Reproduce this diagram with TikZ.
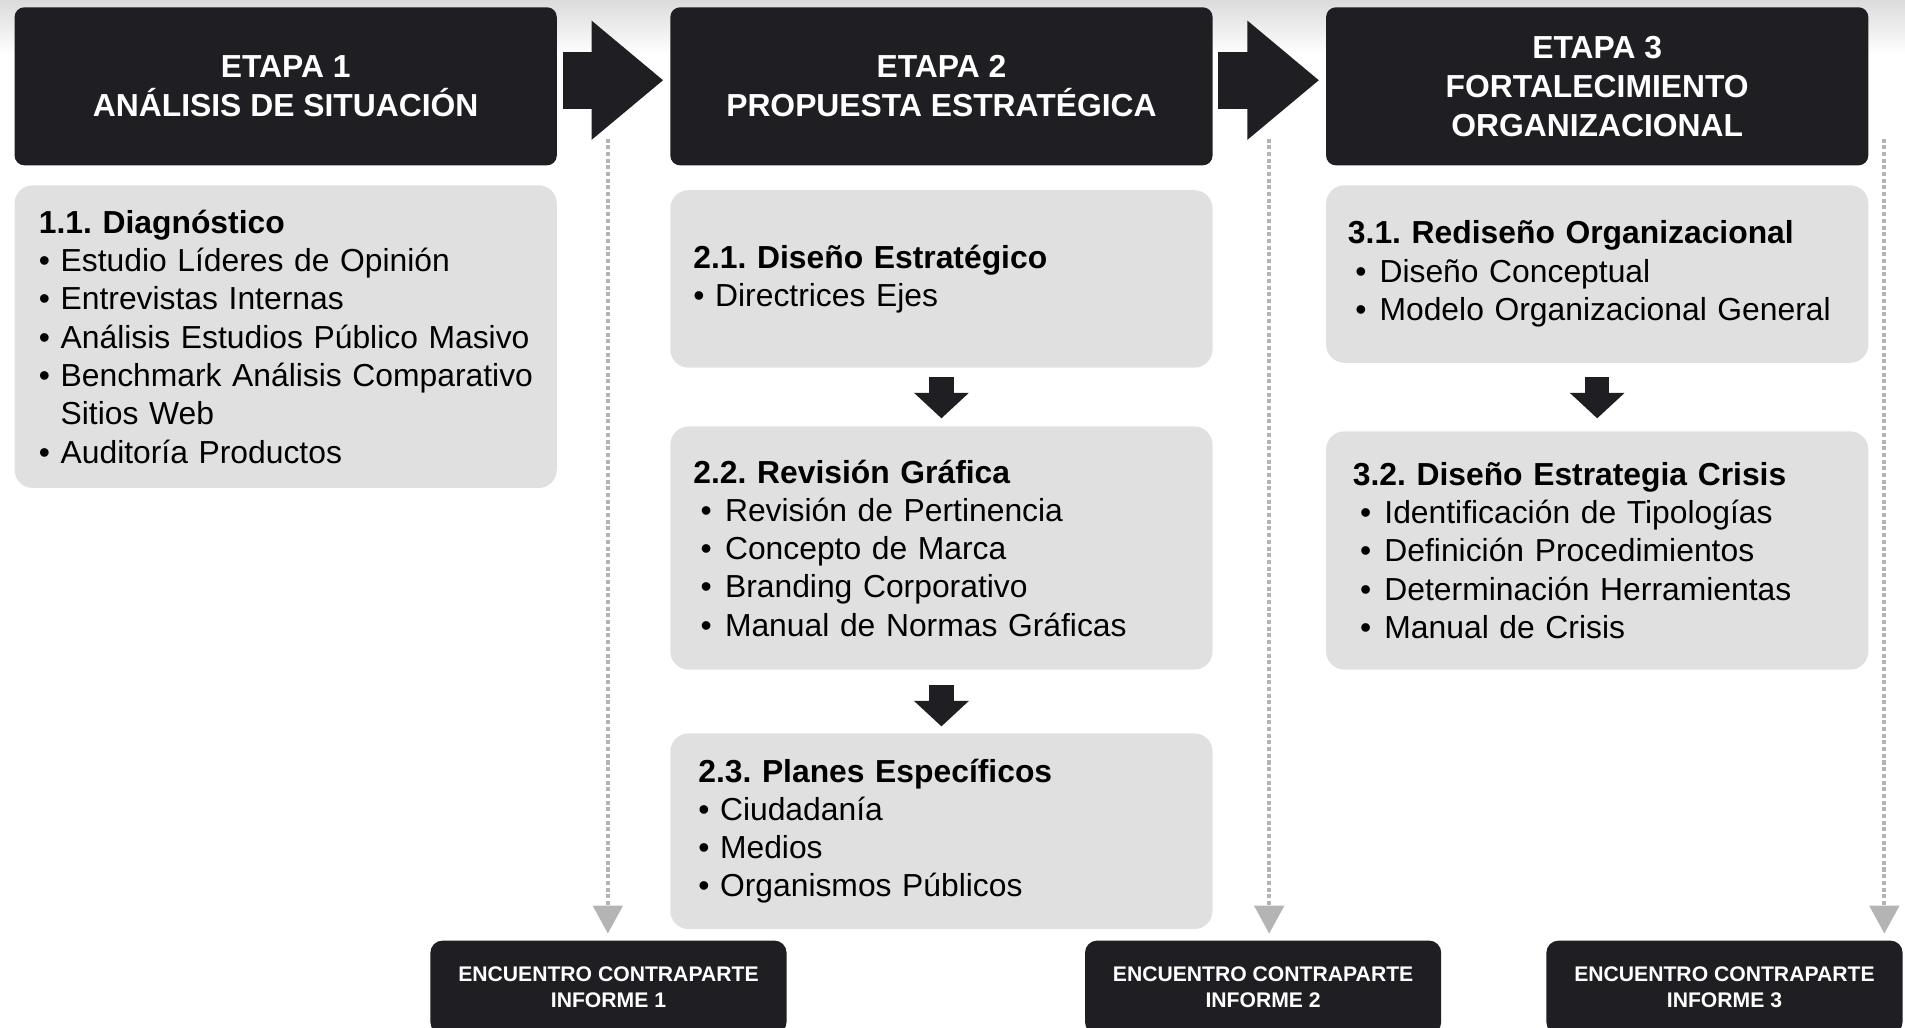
\documentclass[tikz,border=0pt]{standalone}
\usepackage{fontspec}
\setmainfont{Liberation Sans}
\usetikzlibrary{arrows.meta,positioning}
\definecolor{negro}{HTML}{1F1E22}
\definecolor{gris}{HTML}{E0E0E0}
\definecolor{grisguia}{HTML}{B4B4B4}
\newcommand\vineta{\hspace*{0.06cm}\makebox[0.2cm][l]{•}}
\frenchspacing

\begin{document}
\begin{tikzpicture}[
  etapabox/.style={fill=negro, text=white, rounded corners=0.08cm, minimum width=4.46cm, minimum height=1.30cm, align=center, font=\bfseries\fontsize{7.45}{9.1}\selectfont},
  subbox/.style={fill=gris, rounded corners=0.15cm, minimum width=4.46cm, inner ysep=0.05cm, align=left, font=\fontsize{7.45}{8.96}\selectfont},
  informe/.style={fill=negro, text=white, rounded corners=0.1cm, minimum width=2.93cm, minimum height=0.77cm, anchor=north, align=center, font=\bfseries\fontsize{4.95}{5.97}\selectfont},
  flecha/.style={negro, line width=0.47cm, -{Triangle[width=0.94cm,length=0.59cm]}, shorten <=0.04cm, shorten >=0.05cm},
  bajada/.style={negro, line width=0.20cm, -{Triangle[width=0.44cm,length=0.21cm]}},
  guiaflecha/.style={grisguia, line width=0.035cm, dash pattern=on 0.033cm off 0.022cm, -{Triangle[width=0.24cm,length=0.23cm]}, shorten >=0.05cm}
]
  \useasboundingbox (0,0) rectangle (15.67,8.45);
  \clip (0,0) rectangle (15.67,8.45);
  \shade [top color=black!14, bottom color=white] (0,8.0) rectangle (15.67,8.45);

  \node [etapabox] (h1) at (2.35,7.74) { ETAPA 1\\ANÁLISIS DE SITUACIÓN };
  \node [etapabox, right=0.92cm of h1] (h2) { ETAPA 2\\PROPUESTA ESTRATÉGICA };
  \node [etapabox, right=0.92cm of h2] (h3) { ETAPA 3\\FORTALECIMIENTO\\ORGANIZACIONAL };

  \draw [flecha] ([yshift=0.05cm]h1.east) -- ([yshift=0.05cm]h2.west);
  \draw [flecha] ([yshift=0.05cm]h2.east) -- ([yshift=0.05cm]h3.west);

  \node [subbox, below=0.15cm of h1, minimum height=2.49cm, inner xsep=0.20cm, text width=4.06cm] (c11)
    { \textbf{1.1. Diagnóstico}\\
      • Estudio Líderes de Opinión\\
      • Entrevistas Internas\\
      • Análisis Estudios Público Masivo\\
      \mbox{• Benchmark Análisis Comparativo}\\
      \phantom{• }Sitios Web\\
      • Auditoría Productos };

  \node [subbox, below=0.19cm of h2, minimum height=1.46cm, inner xsep=0.19cm, text width=4.08cm] (c21)
    { \textbf{2.1. Diseño Estratégico}\\
      • Directrices Ejes };
  \node [subbox, below=0.47cm of c21, minimum height=2.00cm, inner xsep=0.19cm, text width=4.08cm] (c22)
    { \textbf{2.2. Revisión Gráfica}\\
      \vineta Revisión de Pertinencia\\
      \vineta Concepto de Marca\\
      \vineta Branding Corporativo\\
      \vineta Manual de Normas Gráficas };
  \node [subbox, below=0.51cm of c22, minimum height=1.61cm, inner xsep=0.23cm, text width=4.00cm] (c23)
    { \textbf{2.3. Planes Específicos}\\
      • Ciudadanía\\
      • Medios\\
      • Organismos Públicos };

  \node [subbox, below=0.15cm of h3, minimum height=1.46cm, inner xsep=0.18cm, text width=4.10cm] (c31)
    { \textbf{3.1. Rediseño Organizacional}\\
      \vineta Diseño Conceptual\\
      \vineta Modelo Organizacional General };
  \node [subbox, below=0.55cm of c31, minimum height=1.96cm, inner xsep=0.22cm, text width=4.02cm] (c32)
    { \textbf{3.2. Diseño Estrategia Crisis}\\
      \vineta Identificación de Tipologías\\
      \vineta Definición Procedimientos\\
      \vineta Determinación Herramientas\\
      \vineta Manual de Crisis };

  \draw [bajada, shorten <=0.07cm, shorten >=0.06cm] (c21) -- (c22);
  \draw [bajada, shorten <=0.12cm, shorten >=0.05cm] (c22) -- (c23);
  \draw [bajada, shorten <=0.11cm, shorten >=0.10cm] (c31) -- (c32);

  \node [informe] (i1) at (5.005,0.72) { ENCUENTRO CONTRAPARTE\\INFORME 1 };
  \node [informe] (i2) at (10.39,0.72) { ENCUENTRO CONTRAPARTE\\INFORME 2 };
  \node [informe] (i3) at (14.185,0.72) { ENCUENTRO CONTRAPARTE\\INFORME 3 };

  \coordinate (g1) at (5.00,7.31);
  \coordinate (g2) at (10.44,7.31);
  \coordinate (g3) at (15.50,7.31);
  \draw [guiaflecha] (g1) -- (g1 |- i1.north);
  \draw [guiaflecha] (g2) -- (g2 |- i2.north);
  \draw [guiaflecha] (g3) -- (g3 |- i3.north);
\end{tikzpicture}
\end{document}
